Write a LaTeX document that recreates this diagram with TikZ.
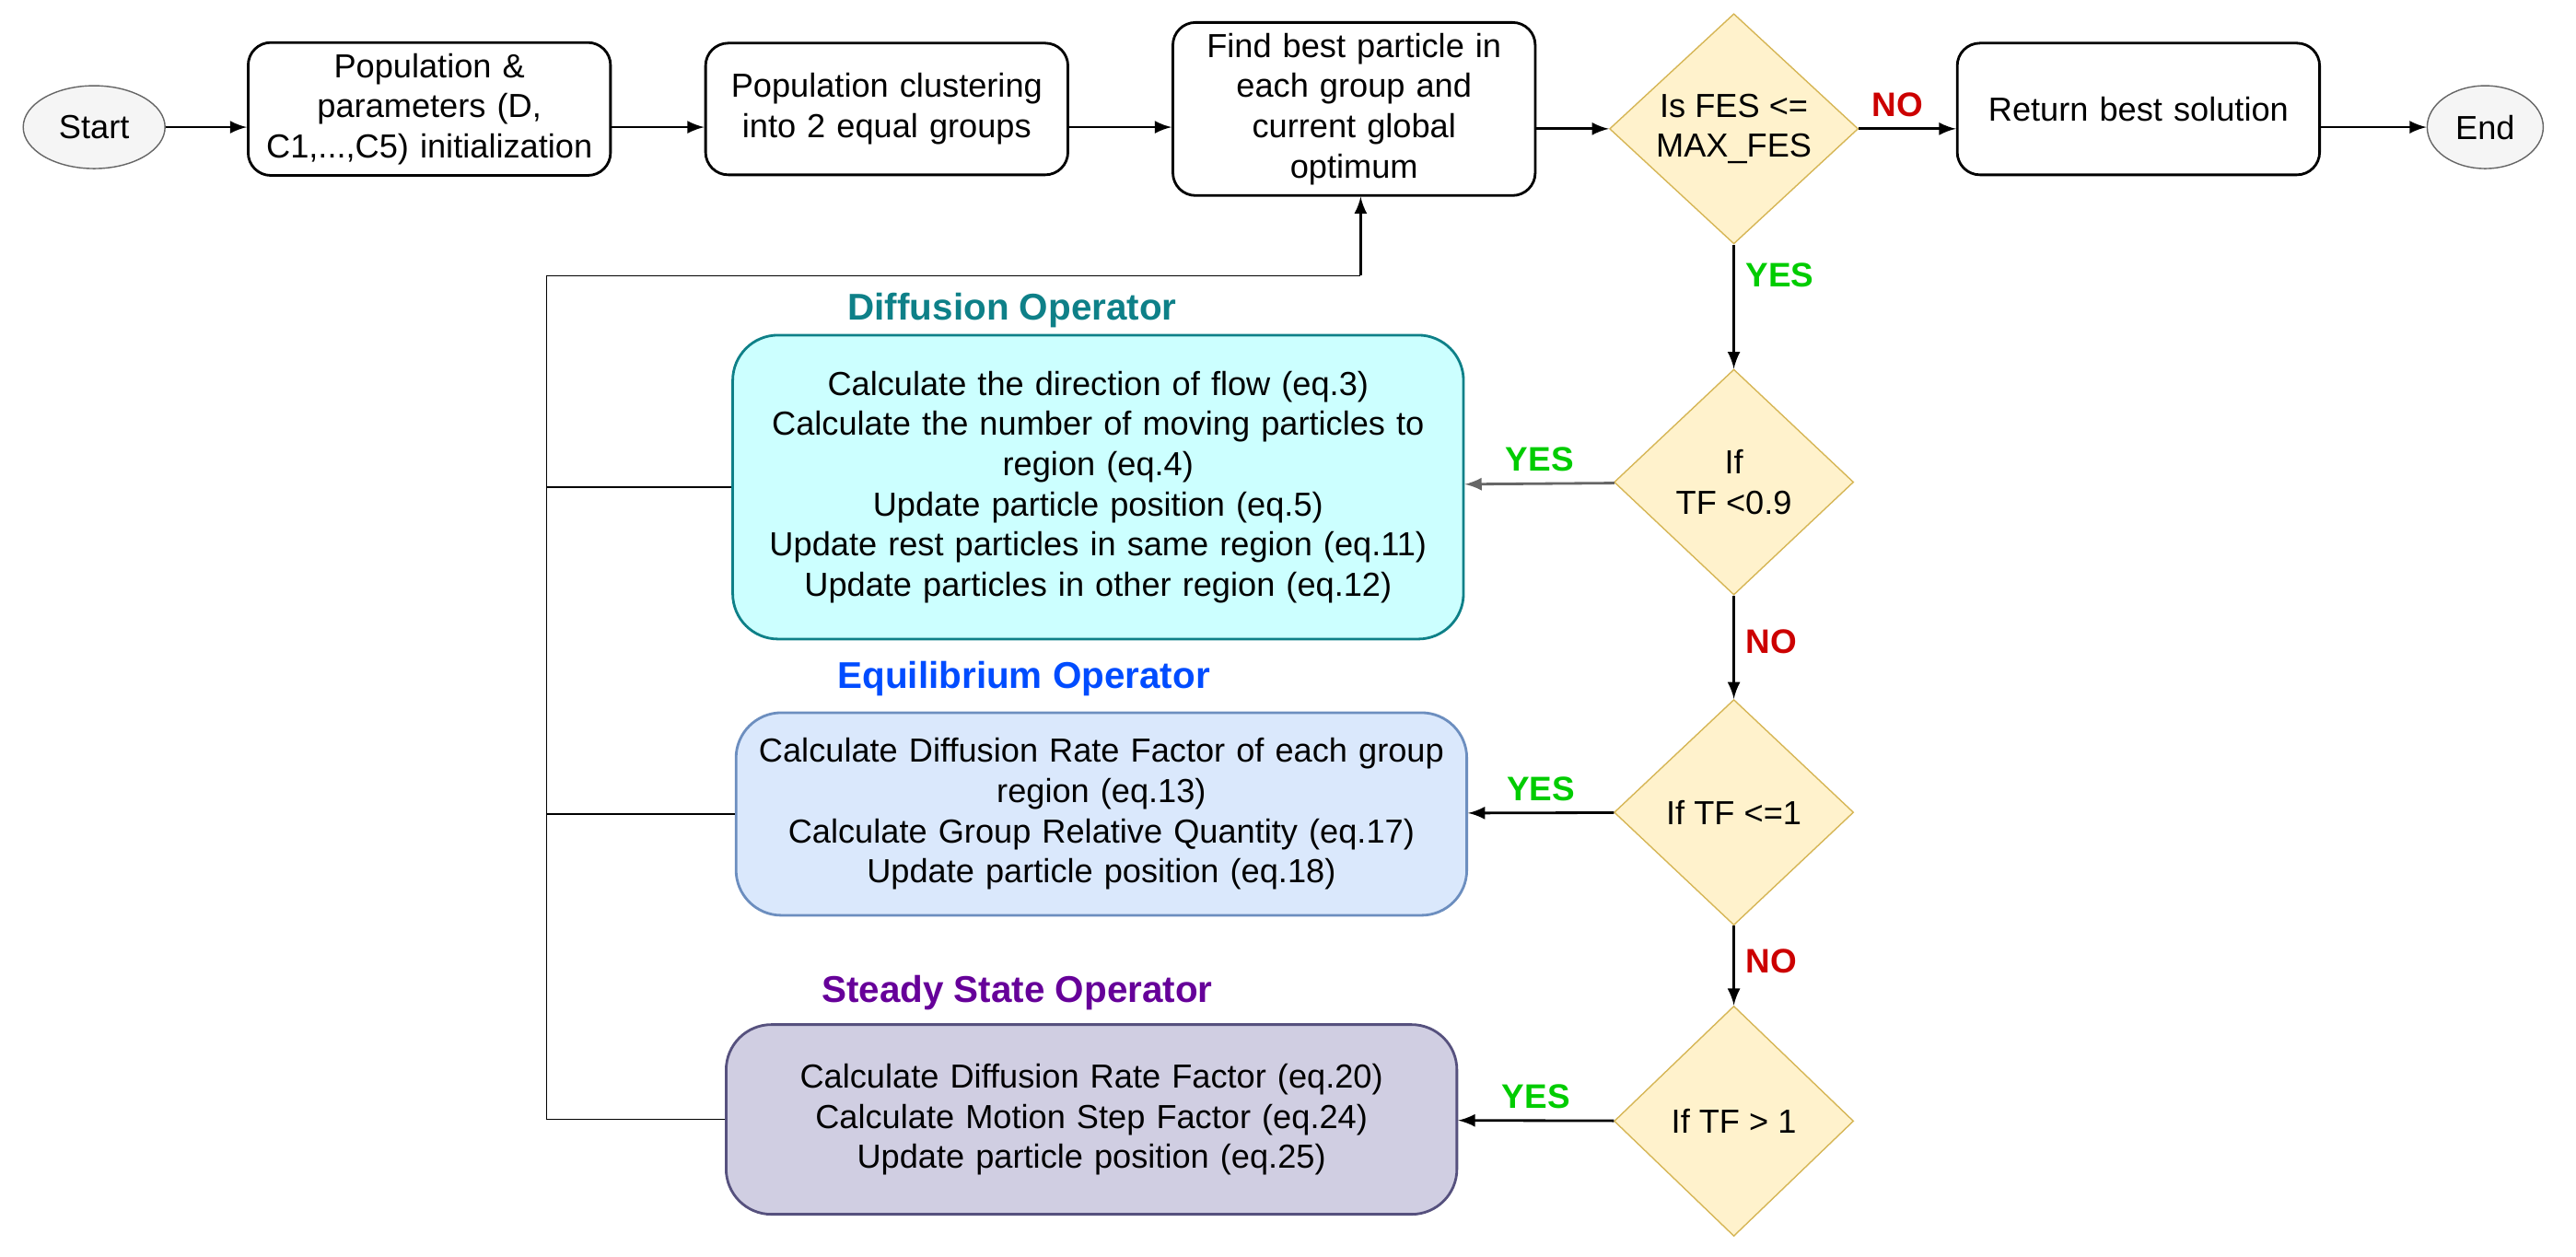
\documentclass[tikz,border=0pt]{standalone}
\usepackage{fontspec}
\setmainfont{Liberation Sans}
\usetikzlibrary{shapes.geometric}
\definecolor{gris}{HTML}{F5F5F5}
\definecolor{grisbord}{HTML}{666666}
\definecolor{jaune}{HTML}{FFF2CC}
\definecolor{jaunebord}{HTML}{D6B656}
\definecolor{cyanfond}{HTML}{CCFFFF}
\definecolor{cyanbord}{HTML}{0E8088}
\definecolor{bleufond}{HTML}{DAE8FC}
\definecolor{bleubord}{HTML}{6C8EBF}
\definecolor{violetfond}{HTML}{D0CEE2}
\definecolor{violetbord}{HTML}{56517E}
\definecolor{oui}{HTML}{00CC00}
\definecolor{non}{HTML}{CC0000}
\begin{document}
\begin{tikzpicture}[x=0.01793cm,y=-0.01793cm,font=\fontsize{10.3}{12.4}\selectfont]
			\tikzstyle{fleche}=[->,>=latex,thick]
			\tikzstyle{bord}=[ellipse,draw=grisbord,fill=gris,minimum width=1.54cm,minimum height=0.9cm]
			\tikzstyle{boite}=[draw,rounded corners=7pt,thick,align=center,minimum width=3.77cm,minimum height=1.43cm,text width=3.7cm]
			\tikzstyle{test}=[diamond,draw=jaunebord,fill=jaune,align=center,minimum width=2.6cm,minimum height=2.45cm,inner sep=0pt]
			\tikzstyle{operateur}=[draw,thick,rounded corners=14pt,align=center,text width=7.7cm,minimum width=7.89cm]
			\tikzstyle{titre}=[font=\fontsize{11.5}{13}\selectfont\bfseries]
			\tikzstyle{oui}=[text=oui,font=\fontsize{10.5}{12}\selectfont\bfseries]
			\tikzstyle{non}=[text=non,font=\fontsize{10.5}{12}\selectfont\bfseries]
			\useasboundingbox (0,0) rectangle (1560,761);
			\node[bord] (S) at (57,77) {Start};
			\node[boite] (P) at (260,66) {Population \&\\parameters (D,\\C1,...,C5) initialization};
			\node[boite] (C) at (537,66) {Population clustering\\into 2 equal groups};
			\node[boite] (B) at (820,66) {Find best particle in\\each group and\\current global\\optimum};
			\node[test,minimum width=2.7cm,minimum height=2.5cm] (T1) at (1050,78) {Is FES <=\\MAX\_FES};
			\node[boite] (R) at (1295,66) {Return best solution\\[2.2em]};
			\node[bord,minimum width=1.26cm] (E) at (1505,77) {End};
			\node[test] (T2) at (1050,292) {If\\TF <0.9};
			\node[test] (T3) at (1050,492) {If TF <=1};
			\node[test,minimum height=2.5cm] (T4) at (1050,679) {If TF > 1};
			\node[operateur,draw=cyanbord,fill=cyanfond,minimum height=3.3cm] (D) at (665,295) {Calculate the direction of flow (eq.3)\\Calculate the number of moving particles to\\region (eq.4)\\Update particle position (eq.5)\\Update rest particles in same region (eq.11)\\Update particles in other region (eq.12)};
			\node[operateur,draw=bleubord,fill=bleufond,minimum height=2.2cm] (Q) at (667,493) {Calculate Diffusion Rate Factor of each group\\region (eq.13)\\Calculate Group Relative Quantity (eq.17)\\Update particle position (eq.18)};
			\node[operateur,draw=violetbord,fill=violetfond,minimum width=7.85cm,minimum height=2.06cm] (Y) at (661,678) {Calculate Diffusion Rate Factor (eq.20)\\Calculate Motion Step Factor (eq.24)\\Update particle position (eq.25)};
			\node[titre,text=cyanbord] (Dt) at (613,188) {Diffusion Operator};
			\node[titre,text=blue!70!cyan] (Qt) at (620,411) {Equilibrium Operator};
			\node[titre,text=violet!80!blue] (Yt) at (616,601) {Steady State Operator};
			\coordinate (J) at (331,167);
			\coordinate (K) at (824,167);
			\draw[fleche] (S)--(P.west|-S);
			\draw[fleche] (P.east|-S)--(C.west|-S);
			\draw[fleche] (C.east|-S)--(B.west|-S);
			\draw[fleche] (B.east|-T1)--(T1);
			\draw[fleche] (T1)--(R.west|-T1) node[non,pos=0.4,above] {NO};
			\draw[fleche] (R.east|-E)--(E);
			\draw[fleche] (T1)--(T2) node[oui,pos=0.25,right] {YES};
			\draw[fleche] (T2)--(T3) node[non,pos=0.45,right] {NO};
			\draw[fleche] (T3)--(T4) node[non,pos=0.45,right] {NO};
			\draw[fleche,gray!80!black] (T2)--(D) node[oui,pos=0.5,above] {YES};
			\draw[fleche] (T3)--(Q) node[oui,pos=0.5,above] {YES};
			\draw[fleche] (T4)--(Y) node[oui,pos=0.5,above] {YES};
			\draw (D.west)--(D.west-|J);
			\draw (Q.west)--(Q.west-|J);
			\draw (Y.west)--(Y.west-|J)--(J)--(K);
			\draw[fleche] (K)--(K|-B.south);
		\end{tikzpicture}
\end{document}
